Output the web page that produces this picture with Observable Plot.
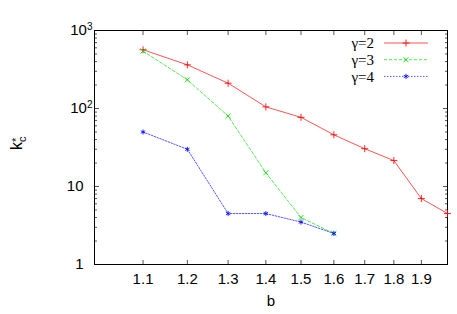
<!DOCTYPE html>
<html>
<head>
<meta charset="utf-8">
<script src="https://cdn.jsdelivr.net/npm/d3@7"></script>
<script src="https://cdn.jsdelivr.net/npm/@observablehq/plot@0.6"></script>
<style>
  html, body { margin: 0; padding: 0; background: white; }
  .legend-text { font-family: "Liberation Serif", "DejaVu Serif", serif !important; }
</style>
</head>
<body>
<div id="chart"></div>
<script>
// ---- data ----
const bAll = [1.1, 1.2, 1.3, 1.4, 1.5, 1.6, 1.7, 1.8, 1.9, 2.0];
const gamma2 = [566, 363, 211, 105, 77, 46, 30.5, 21.5, 7, 4.5];
const bShort = [1.1, 1.2, 1.3, 1.4, 1.5, 1.6];
const gamma3 = [545, 233, 80, 15, 4, 2.5];
const gamma4 = [50, 30, 4.5, 4.5, 3.5, 2.5];

const seriesNames = ["γ=2", "γ=3", "γ=4"];
const seriesColors = ["#ff0000", "#00dd00", "#0000ff"];
const seriesDash = [null, "3,2", "1.5,1.5"];
const seriesSymbols = ["plus", "times", "asterisk"];

const xTicks = [1.1, 1.2, 1.3, 1.4, 1.5, 1.6, 1.7, 1.8, 1.9];
const xTickLabels = ["1.1", "1.2", "1.3", "1.4", "1.5", "1.6", "1.7", "1.8", "1.9"];
const yTicks = [1, 10, 100, 1000];
const yTickLabels = ["1", "10", "10^2", "10^3"];
const yMinor = [];
for (const dec of [1, 10, 100]) for (let m = 2; m <= 9; m++) yMinor.push(dec * m);

const rows = [
  ...bAll.map((b, i) => ({b, k: gamma2[i], s: seriesNames[0]})),
  ...bShort.map((b, i) => ({b, k: gamma3[i], s: seriesNames[1]})),
  ...bShort.map((b, i) => ({b, k: gamma4[i], s: seriesNames[2]}))
];

const lineMarks = seriesNames.map((name, i) =>
  Plot.line(rows.filter(d => d.s === name), {
    x: "b", y: "k", stroke: seriesColors[i], strokeWidth: 0.9, strokeOpacity: 0.75,
    strokeDasharray: seriesDash[i]
  })
);
const dotMarks = seriesNames.map((name, i) =>
  Plot.dot(rows.filter(d => d.s === name), {
    x: "b", y: "k", stroke: seriesColors[i], strokeWidth: 1, strokeOpacity: 0.85,
    symbol: seriesSymbols[i], r: 2.4
  })
);

const chart = Plot.plot({
  width: 457,
  height: 314,
  marginLeft: 94,
  marginRight: 10,
  marginTop: 30,
  marginBottom: 50,
  style: {fontFamily: "'Liberation Sans', Arial, sans-serif", fontSize: "15px", background: "white", color: "black"},
  x: {type: "log", domain: [1, 2]},
  y: {type: "log", domain: [1, 1000]},
  marks: [
    // ticks (inward)
    Plot.axisX({anchor: "bottom", ticks: xTicks, tickSize: -4, text: null, label: null, stroke: "#555"}),
    Plot.axisX({anchor: "top", ticks: xTicks, tickSize: -4, text: null, label: null, stroke: "#555"}),
    Plot.axisY({anchor: "left", ticks: yTicks, tickSize: -5, text: null, label: null, stroke: "#555"}),
    Plot.axisY({anchor: "right", ticks: yTicks, tickSize: -5, text: null, label: null, stroke: "#555"}),
    Plot.axisY({anchor: "left", ticks: yMinor, tickSize: -3, text: null, label: null, stroke: "#555"}),
    Plot.axisY({anchor: "right", ticks: yMinor, tickSize: -3, text: null, label: null, stroke: "#555"}),
    // labels
    Plot.axisX({anchor: "bottom", ticks: xTicks, tickSize: 0, tickPadding: 9,
      tickFormat: d => xTickLabels[xTicks.indexOf(d)],
      label: "b", labelAnchor: "center", labelArrow: "none", labelOffset: 41}),
    Plot.axisY({anchor: "left", ticks: yTicks, tickSize: 0, tickPadding: 11,
      tickFormat: d => yTickLabels[yTicks.indexOf(d)], label: null}),
    Plot.frame({stroke: "black", strokeWidth: 1}),
    ...lineMarks,
    ...dotMarks
  ]
});

document.getElementById("chart").appendChild(chart);
const svg = d3.select(chart);

// superscript tick labels
svg.selectAll('g[aria-label="y-axis tick label"] text').each(function() {
  const t = d3.select(this);
  const txt = t.text();
  if (txt.includes("^")) {
    const [base, exp] = txt.split("^");
    const x0 = +(t.attr("x") || 0);
    t.attr("x", x0 + 9);
    t.text(null);
    t.append("tspan").text(base);
    t.append("tspan").attr("font-size", "10px").attr("dy", "-0.55em").text(exp);
  }
});

// y label k_c^*
const yl = svg.append("text")
  .attr("transform", "translate(22,150) rotate(-90)")
  .attr("text-anchor", "start")
  .style("font-family", "'Liberation Sans', Arial, sans-serif")
  .style("font-size", "16px")
  .attr("fill", "black");
yl.append("tspan").text("k");
yl.append("tspan").style("font-size", "11px").attr("dy", "4").text("c");
yl.append("tspan").style("font-size", "11px").attr("dx", "-5.5").attr("dy", "-6").text("*");

// legend
const symMap = {plus: d3.symbolPlus, times: d3.symbolTimes, asterisk: d3.symbolAsterisk};
const lg = svg.append("g");
seriesNames.forEach((name, i) => {
  const y = 43 + i * 16.7;
  lg.append("text")
    .attr("class", "legend-text")
    .attr("x", 374).attr("y", y).attr("dy", "0.35em")
    .attr("text-anchor", "end")
    .style("font-size", "15px").attr("fill", "black")
    .text(name);
  lg.append("line")
    .attr("x1", 384).attr("x2", 428).attr("y1", y).attr("y2", y)
    .attr("stroke", seriesColors[i]).attr("stroke-width", 0.9).attr("stroke-opacity", 0.75)
    .attr("stroke-dasharray", seriesDash[i]);
  lg.append("path")
    .attr("transform", `translate(406,${y})`)
    .attr("d", d3.symbol(symMap[seriesSymbols[i]], 2.4 * 2.4 * Math.PI)())
    .attr("fill", "none").attr("stroke", seriesColors[i]).attr("stroke-width", 1).attr("stroke-opacity", 0.85);
});
</script>
</body>
</html>
